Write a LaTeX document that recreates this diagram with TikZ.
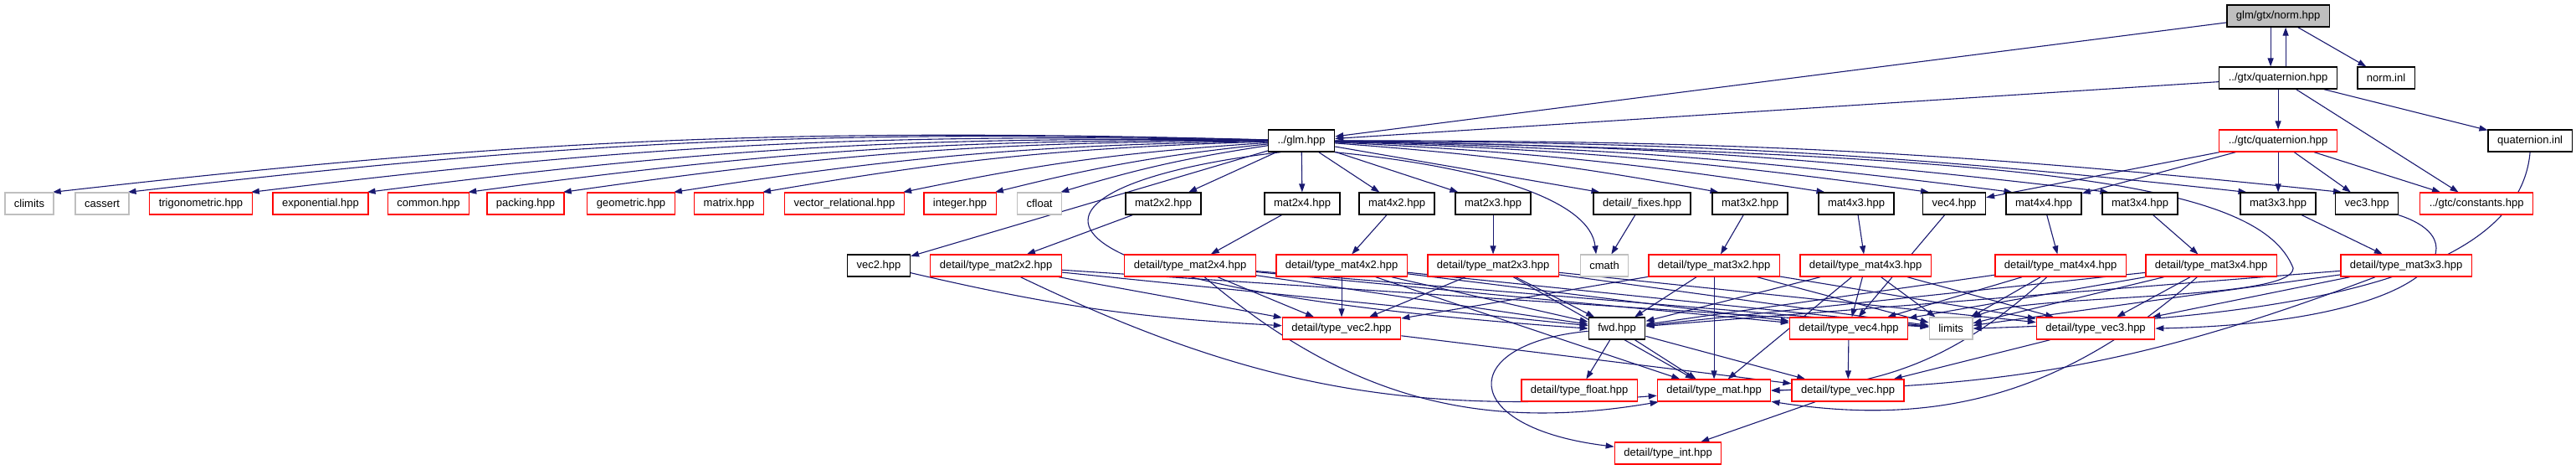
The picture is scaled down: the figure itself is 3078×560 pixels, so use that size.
\documentclass[tikz,border=0pt]{standalone}
\usepackage{fontspec}
\setmainfont{Liberation Sans}
\usepackage{xcolor}
\usepackage{tikz}
\usetikzlibrary{arrows.meta,backgrounds}
\definecolor{cEdge}{HTML}{191970}
\definecolor{cTrunc}{HTML}{FF0000}
\definecolor{cSys}{HTML}{BFBFBF}
\definecolor{cRoot}{HTML}{BFBFBF}
% one unit of the picture is 0.05pt (one pixel of the original graph)
\tikzset{
  hdr/.style  ={draw=black, fill=white, font=\fontsize{0.65}{0.75}\selectfont,
                minimum height=1.3pt, inner xsep=0.55pt, inner ysep=0pt, line width=0.065pt},
  trunc/.style={hdr, draw=cTrunc},
  sys/.style  ={hdr, draw=cSys},
  root/.style ={hdr, fill=cRoot},
  arrow/.style={-{Triangle[length=0.5pt,width=0.35pt]}, line width=0.055pt, draw=cEdge},
}

\begin{document}
\begin{tikzpicture}[x=0.05pt,y=-0.05pt]
  \useasboundingbox (0,0) rectangle (3078,560);
  % top of the graph
  \node[root]  (norm)      at (2722,19)  {glm/gtx/norm.hpp};
  \node[hdr]   (gtxquat)   at (2722,93)  {../gtx/quaternion.hpp};
  \node[hdr]   (norminl)   at (2851,93)  {norm.inl};
  \node[hdr]   (glm)       at (1555,168) {../glm.hpp};
  \node[trunc] (gtcquat)   at (2722,168) {../gtc/quaternion.hpp};
  \node[hdr]   (quatinl)   at (3023,168) {quaternion.inl};
  % headers of glm.hpp
  \node[sys]   (climits)   at (35,243)   {climits};
  \node[sys]   (cassert)   at (122,243)  {cassert};
  \node[trunc] (trig)      at (240,243)  {trigonometric.hpp};
  \node[trunc] (expo)      at (383,243)  {exponential.hpp};
  \node[trunc] (common)    at (512,243)  {common.hpp};
  \node[trunc] (packing)   at (628,243)  {packing.hpp};
  \node[trunc] (geom)      at (754,243)  {geometric.hpp};
  \node[trunc] (matrix)    at (871,243)  {matrix.hpp};
  \node[trunc] (vecrel)    at (1009,243) {vector\_relational.hpp};
  \node[trunc] (integer)   at (1147,243) {integer.hpp};
  \node[sys]   (cfloat)    at (1242,243) {cfloat};
  \node[hdr]   (mat2x2)    at (1390,243) {mat2x2.hpp};
  \node[hdr]   (mat2x4)    at (1556,243) {mat2x4.hpp};
  \node[hdr]   (mat4x2)    at (1669,243) {mat4x2.hpp};
  \node[hdr]   (mat2x3)    at (1784,243) {mat2x3.hpp};
  \node[hdr]   (fixes)     at (1962,243) {detail/\_fixes.hpp};
  \node[hdr]   (mat3x2)    at (2091,243) {mat3x2.hpp};
  \node[hdr]   (mat4x3)    at (2218,243) {mat4x3.hpp};
  \node[hdr]   (vec4)      at (2335,243) {vec4.hpp};
  \node[hdr]   (mat4x4)    at (2442,243) {mat4x4.hpp};
  \node[hdr]   (mat3x4)    at (2557,243) {mat3x4.hpp};
  \node[hdr]   (mat3x3)    at (2722,243) {mat3x3.hpp};
  \node[hdr]   (vec3)      at (2828,243) {vec3.hpp};
  \node[trunc] (constants) at (2959,243) {../gtc/constants.hpp};
  % detail types
  \node[hdr]   (vec2)      at (1050,317) {vec2.hpp};
  \node[trunc] (tmat2x2)   at (1190,317) {detail/type\_mat2x2.hpp};
  \node[trunc] (tmat2x4)   at (1422,317) {detail/type\_mat2x4.hpp};
  \node[trunc] (tmat4x2)   at (1603,317) {detail/type\_mat4x2.hpp};
  \node[trunc] (tmat2x3)   at (1784,317) {detail/type\_mat2x3.hpp};
  \node[sys]   (cmath)     at (1917,317) {cmath};
  \node[trunc] (tmat3x2)   at (2048,317) {detail/type\_mat3x2.hpp};
  \node[trunc] (tmat4x3)   at (2229,317) {detail/type\_mat4x3.hpp};
  \node[trunc] (tmat4x4)   at (2462,317) {detail/type\_mat4x4.hpp};
  \node[trunc] (tmat3x4)   at (2642,317) {detail/type\_mat3x4.hpp};
  \node[trunc] (tmat3x3)   at (2875,317) {detail/type\_mat3x3.hpp};
  \node[trunc] (tvec2)     at (1603,392) {detail/type\_vec2.hpp};
  \node[hdr]   (fwd)       at (1932,392) {fwd.hpp};
  \node[trunc] (tvec4)     at (2209,392) {detail/type\_vec4.hpp};
  \node[sys]   (limits)    at (2331,392) {limits};
  \node[trunc] (tvec3)     at (2504,392) {detail/type\_vec3.hpp};
  \node[trunc] (tfloat)    at (1887,466) {detail/type\_float.hpp};
  \node[trunc] (tmat)      at (2048,466) {detail/type\_mat.hpp};
  \node[trunc] (tvec)      at (2208,466) {detail/type\_vec.hpp};
  \node[trunc] (tint)      at (1993,541) {detail/type\_int.hpp};

  \begin{scope}[on background layer]
  % norm.hpp and the quaternion files
  \draw[arrow] (norm) -- (glm);
  \draw[arrow] ([xshift=-0.45pt]norm.south) -- ([xshift=-0.45pt]gtxquat.north);
  \draw[arrow] ([xshift=0.45pt]gtxquat.north) -- ([xshift=0.45pt]norm.south);
  \draw[arrow] (norm) -- (norminl);
  \draw[arrow] (gtxquat) -- (glm);
  \draw[arrow] (gtxquat) -- (gtcquat);
  \draw[arrow] (gtxquat) -- (constants);
  \draw[arrow] (gtxquat) -- (quatinl);
  \draw[arrow] (gtcquat) -- (vec4);
  \draw[arrow] (gtcquat) -- (mat4x4);
  \draw[arrow] (gtcquat) -- (mat3x3);
  \draw[arrow] (gtcquat) -- (vec3);
  \draw[arrow] (gtcquat) -- (constants);
  \draw[arrow] (quatinl.south) .. controls (3010,330) and (2750,380) .. (limits.east);

  % glm.hpp
  \draw[arrow] (glm) to[bend right=4] ([xshift=-0.1pt]climits.north east);
  \draw[arrow] (glm) to[bend right=4] ([xshift=-0.1pt]cassert.north east);
  \draw[arrow] (glm) to[bend right=4] ([xshift=-0.1pt]trig.north east);
  \draw[arrow] (glm) to[bend right=4] ([xshift=-0.1pt]expo.north east);
  \draw[arrow] (glm) to[bend right=4] ([xshift=-0.1pt]common.north east);
  \draw[arrow] (glm) to[bend right=4] ([xshift=-0.1pt]packing.north east);
  \draw[arrow] (glm) to[bend right=4] ([xshift=-0.1pt]geom.north east);
  \draw[arrow] (glm) to[bend right=4] ([xshift=-0.1pt]matrix.north east);
  \draw[arrow] (glm) to[bend right=4] ([xshift=-0.1pt]vecrel.north east);
  \draw[arrow] (glm) to[bend right=4] ([xshift=-0.1pt]integer.north east);
  \draw[arrow] (glm) to[bend right=4] ([xshift=-0.1pt]cfloat.north east);
  \draw[arrow] (glm) -- (vec2);
  \draw[arrow] ([xshift=-1.25pt]glm.south) .. controls (1200,220) and (1150,340) .. (fwd.west);
  \draw[arrow] (glm) -- (mat2x2);
  \draw[arrow] (glm) -- (mat2x4);
  \draw[arrow] (glm) -- (mat4x2);
  \draw[arrow] (glm) -- (mat2x3);
  \draw[arrow] (glm.south east) .. controls (1780,200) and (1900,240) .. ([xshift=-0.5pt]cmath.north);
  \draw[arrow] (glm) -- ([xshift=0.4pt]fixes.north west);
  \draw[arrow] (glm) to[bend left=3] ([xshift=0.4pt]mat3x2.north west);
  \draw[arrow] (glm) to[bend left=3] ([xshift=0.4pt]mat4x3.north west);
  \draw[arrow] (glm) to[bend left=3] ([xshift=0.4pt]vec4.north west);
  \draw[arrow] (glm) to[bend left=3] ([xshift=0.4pt]mat4x4.north west);
  \draw[arrow] (glm) to[bend left=3] ([xshift=0.4pt]mat3x4.north west);
  \draw[arrow] (glm) to[bend left=3] ([xshift=0.4pt]mat3x3.north west);
  \draw[arrow] (glm) to[bend left=3] ([xshift=0.4pt]vec3.north west);
  \draw[arrow] (glm.east) .. controls (2450,185) and (2700,220) .. (2740,320)
                          .. controls (2740,360) and (2420,350) .. (limits);

  % vec and mat headers
  \draw[arrow] (fixes) -- (cmath);
  \draw[arrow] (vec2) to[bend right=5] (tvec2);
  \draw[arrow] (vec4) -- (tvec4);
  \draw[arrow] (vec3.south east) .. controls (2970,290) and (2900,385) .. (tvec3.east);
  \draw[arrow] (mat2x2) -- (tmat2x2);
  \draw[arrow] (mat2x4) -- (tmat2x4);
  \draw[arrow] (mat4x2) -- (tmat4x2);
  \draw[arrow] (mat2x3) -- (tmat2x3);
  \draw[arrow] (mat3x2) -- (tmat3x2);
  \draw[arrow] (mat4x3) -- (tmat4x3);
  \draw[arrow] (mat4x4) -- (tmat4x4);
  \draw[arrow] (mat3x4) -- (tmat3x4);
  \draw[arrow] (mat3x3) -- (tmat3x3);

  % detail/type_mat*.hpp
  \draw[arrow] (tmat2x2) -- (tvec2);
  \draw[arrow] (tmat2x2) -- (fwd);
  \draw[arrow] (tmat2x2) -- (limits);
  \draw[arrow] (tmat2x2) to[bend right=15] (tmat);
  \draw[arrow] (tmat2x4) -- (tvec2);
  \draw[arrow] (tmat2x4) -- (tvec4);
  \draw[arrow] (tmat2x4) -- (fwd);
  \draw[arrow] (tmat2x4) -- (limits);
  \draw[arrow] (tmat2x4) to[bend right=25] (tmat);
  \draw[arrow] (tmat4x2) -- (tvec2);
  \draw[arrow] (tmat4x2) -- (tvec4);
  \draw[arrow] (tmat4x2) -- (fwd);
  \draw[arrow] (tmat4x2) -- (limits);
  \draw[arrow] (tmat4x2) -- (tmat);
  \draw[arrow] (tmat2x3) -- (tvec2);
  \draw[arrow] (tmat2x3) -- (tvec3);
  \draw[arrow] (tmat2x3) -- (fwd);
  \draw[arrow] (tmat2x3) -- (limits);
  \draw[arrow] (tmat2x3) -- (tmat);
  \draw[arrow] (tmat3x2) -- (tvec2);
  \draw[arrow] (tmat3x2) -- (tvec3);
  \draw[arrow] (tmat3x2) -- (fwd);
  \draw[arrow] (tmat3x2) -- (limits);
  \draw[arrow] (tmat3x2) -- (tmat);
  \draw[arrow] (tmat4x3) -- (tvec4);
  \draw[arrow] (tmat4x3) -- (tvec3);
  \draw[arrow] (tmat4x3) -- (fwd);
  \draw[arrow] (tmat4x3) -- (limits);
  \draw[arrow] (tmat4x3) -- (tmat);
  \draw[arrow] (tmat4x4) -- (tvec4);
  \draw[arrow] (tmat4x4) -- (fwd);
  \draw[arrow] (tmat4x4) -- (limits);
  \draw[arrow] (tmat4x4) to[bend left=20] (tmat);
  \draw[arrow] (tmat3x4) -- (tvec4);
  \draw[arrow] (tmat3x4) -- (tvec3);
  \draw[arrow] (tmat3x4) -- (fwd);
  \draw[arrow] (tmat3x4) -- (limits);
  \draw[arrow] (tmat3x4) to[bend left=25] (tmat);
  \draw[arrow] (tmat3x3) -- (tvec3);
  \draw[arrow] (tmat3x3) -- (fwd);
  \draw[arrow] (tmat3x3) -- (limits);
  \draw[arrow] (tmat3x3) to[bend left=10] (tmat);

  % bottom
  \draw[arrow] (tvec2) -- (tvec);
  \draw[arrow] (tvec4) -- (tvec);
  \draw[arrow] (tvec3) -- (tvec);
  \draw[arrow] (fwd) -- (tfloat);
  \draw[arrow] (fwd) -- (tmat);
  \draw[arrow] (fwd) -- (tvec);
  \draw[arrow] (fwd) .. controls (1740,410) and (1740,510) .. (tint);
  \draw[arrow] (tvec) -- (tint);
  \end{scope}
\end{tikzpicture}
\end{document}
